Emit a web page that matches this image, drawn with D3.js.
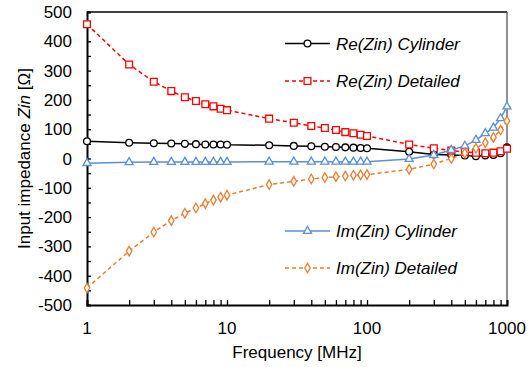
<!DOCTYPE html>
<html><head><meta charset="utf-8">
<script src="https://cdn.jsdelivr.net/npm/d3@7"></script>
<style>body{margin:0;background:#fff}svg{display:block}text{font-family:"Liberation Sans",Arial,sans-serif}</style>
</head><body><svg id="c" width="532" height="367"></svg>
<script>
const freqs = [1,2,3,4,5,6,7,8,9,10,20,30,40,50,60,70,80,90,100,200,300,400,500,600,700,800,900,1000];
const reCylinder = [59,54,52,51,50,49,48,48,48,47,45,43,42,40,39,38,37,36,35,23,14,12,10,8,10,12,18,38];
const reDetailed = [458,321,262,230,209,196,185,178,170,165,136,122,111,104,97,90,86,81,77,48,35,27,22,20,18,20,25,33];
const imCylinder = [-16,-13,-12,-12,-12,-12,-12,-12,-12,-12,-11,-11,-11,-11,-11,-11,-11,-11,-11,-2,12,29,43,63,86,105,137,177];
const imDetailed = [-442,-316,-251,-212,-187,-169,-154,-142,-132,-125,-89,-78,-70,-65,-62,-60,-57,-56,-55,-37,-19,0,18,35,54,72,97,128];
const yTicks = [-500,-400,-300,-200,-100,0,100,200,300,400,500];
const xTickLabels = [1,10,100,1000];

const FS = 17;
const svg = d3.select("#c");
const L=87, R=507, T=12, B=305;
const x = d3.scaleLog().domain([1,1000]).range([L,R]);
const y = d3.scaleLinear().domain([-500,500]).range([B,T]);

// frame
svg.append("line").attr("x1",L).attr("x2",R).attr("y1",T).attr("y2",T).attr("stroke","#000").attr("stroke-width",1.3);
svg.append("line").attr("x1",R).attr("x2",R).attr("y1",T).attr("y2",B).attr("stroke","#555").attr("stroke-width",1.3);

// y axis
const yAx = d3.axisLeft(y).tickValues(d3.range(-500,501,50)).tickSize(-4).tickFormat("");
const gy = svg.append("g").attr("transform",`translate(${L},0)`).call(yAx);
gy.select(".domain").attr("stroke","#000").attr("stroke-width",2);
gy.selectAll(".tick line").attr("stroke","#000").attr("stroke-width",1.3);
svg.selectAll(".ylab").data(yTicks).enter().append("text")
  .attr("x",L-15).attr("y",d=>y(d)+6).attr("text-anchor","end").attr("font-size",FS).text(d=>d);

// x axis
const minor=[];
for(const dec of [1,10,100]) for(let k=2;k<=10;k++) minor.push(dec*k);
const xAx = d3.axisBottom(x).tickValues(minor).tickSize(-5).tickFormat("");
const gx = svg.append("g").attr("transform",`translate(0,${B})`).call(xAx);
gx.select(".domain").attr("stroke","#000").attr("stroke-width",2);
gx.selectAll(".tick line").attr("stroke","#000").attr("stroke-width",1.3);
svg.selectAll(".xlab").data(xTickLabels).enter().append("text")
  .attr("x",d=>x(d)).attr("y",B+29).attr("text-anchor","middle").attr("font-size",FS).text(d=>d);

svg.append("text").attr("x",(L+R)/2).attr("y",B+53).attr("text-anchor","middle").attr("font-size",FS).text("Frequency [MHz]");
const yl = svg.append("text").attr("transform",`translate(30,${(T+B)/2}) rotate(-90)`).attr("text-anchor","middle").attr("font-size",FS);
yl.append("tspan").text("Input impedance ");
yl.append("tspan").attr("font-style","italic").text("Zin");
yl.append("tspan").text(" [Ω]");

const series = [
  {name:"Re(Zin) Cylinder", vals:reCylinder, color:"#000000", dash:null, marker:"circle", ly:43.5},
  {name:"Re(Zin) Detailed", vals:reDetailed, color:"#FF0000", dash:"4,3", marker:"square", ly:81},
  {name:"Im(Zin) Cylinder", vals:imCylinder, color:"#5B8FD6", dash:null, marker:"triangle", ly:231},
  {name:"Im(Zin) Detailed", vals:imDetailed, color:"#ED7D31", dash:"4,3", marker:"diamond", ly:268}
];
const sym = {circle:d3.symbolCircle, square:d3.symbolSquare, triangle:d3.symbolTriangle, diamond:d3.symbolDiamond};
const size = {circle:36, square:46, triangle:28, diamond:26};
const line = d3.line().x(d=>x(d[0])).y(d=>y(d[1]));

function drawMarker(g, s, cx, cy){
  g.append("path").attr("d", d3.symbol().type(sym[s.marker]).size(size[s.marker])())
    .attr("transform",`translate(${cx},${cy})`).attr("fill","#fff").attr("stroke",s.color).attr("stroke-width",1.3);
}
for (const s of series){
  const pts = freqs.map((f,i)=>[f,s.vals[i]]);
  svg.append("path").attr("d",line(pts)).attr("fill","none").attr("stroke",s.color)
    .attr("stroke-width",1.5).attr("stroke-dasharray",s.dash);
  const g = svg.append("g");
  pts.forEach(p=>drawMarker(g,s,x(p[0]),y(p[1])));
  // legend
  svg.append("line").attr("x1",285).attr("x2",330).attr("y1",s.ly).attr("y2",s.ly)
    .attr("stroke",s.color).attr("stroke-width",1.5).attr("stroke-dasharray",s.dash);
  drawMarker(svg,s,307.5,s.ly);
  svg.append("text").attr("x",336).attr("y",s.ly+6).attr("font-size",FS).attr("font-style","italic").text(s.name);
}
</script></body></html>
